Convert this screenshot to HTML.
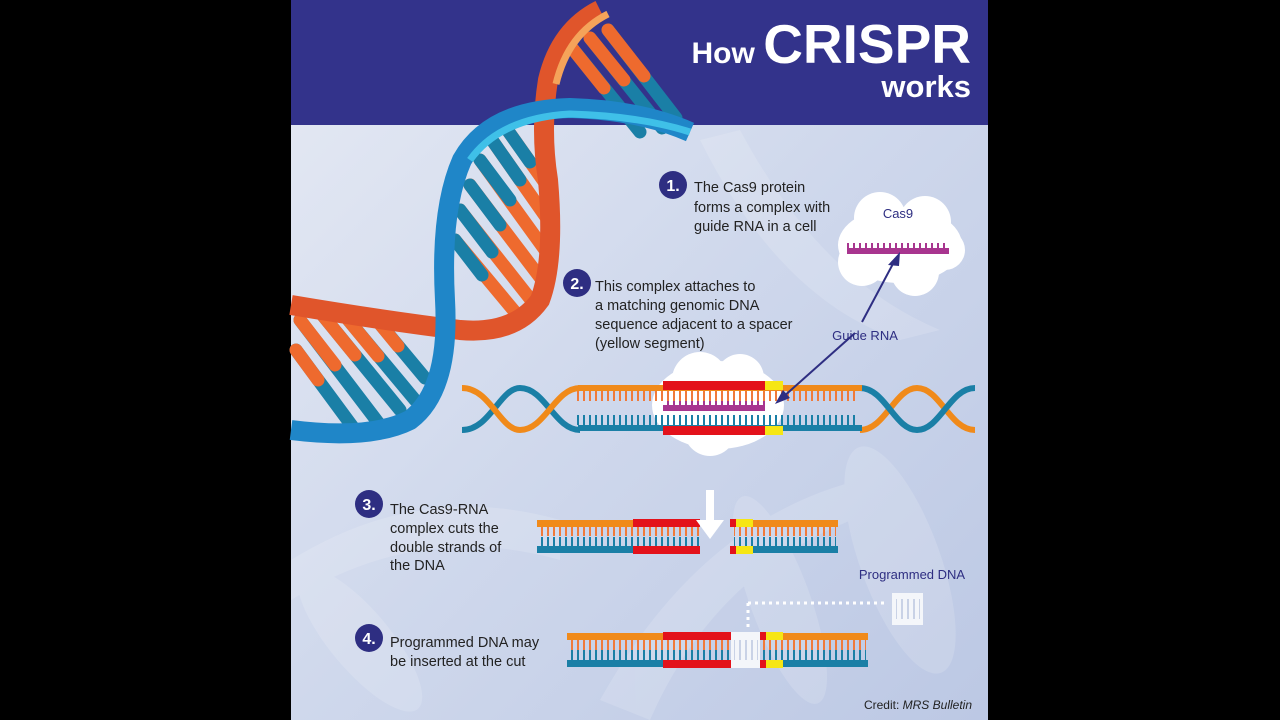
<!DOCTYPE html>
<html><head><meta charset="utf-8"><style>
html,body{margin:0;padding:0;background:#000;}
svg{display:block}
text{font-family:"Liberation Sans",Arial,sans-serif;}
</style></head><body>
<svg width="1280" height="720" viewBox="0 0 1280 720" xmlns="http://www.w3.org/2000/svg">
<defs>
<linearGradient id="bg" x1="0" y1="0" x2="1" y2="1">
<stop offset="0" stop-color="#e6eaf4"/><stop offset="0.5" stop-color="#cfd8ec"/><stop offset="1" stop-color="#bcc8e4"/>
</linearGradient>
<pattern id="tkO" x="0" y="0" width="6" height="20" patternUnits="userSpaceOnUse"><rect x="1" y="0" width="2" height="20" fill="#f07a3a"/></pattern>
<pattern id="tkB" x="0" y="0" width="6" height="20" patternUnits="userSpaceOnUse"><rect x="1" y="0" width="2" height="20" fill="#1a7fa6"/></pattern>
<pattern id="tkP" x="0" y="0" width="6" height="20" patternUnits="userSpaceOnUse"><rect x="1" y="0" width="2" height="20" fill="#a8358f"/></pattern>
<pattern id="tkW" x="0" y="0" width="6" height="20" patternUnits="userSpaceOnUse"><rect x="1" y="0" width="2" height="20" fill="#c9d2e6"/></pattern>
</defs>
<rect width="1280" height="720" fill="#000"/>
<rect x="291" y="0" width="697" height="720" fill="url(#bg)"/>
<g fill="#ffffff" opacity="0.15">
<path d="M700 140 Q780 300 900 340 L940 330 Q820 280 740 130Z"/>
<path d="M291 560 Q420 480 560 520 L560 560 Q420 520 291 600Z"/>
<path d="M600 700 Q700 520 860 480 L880 510 Q720 560 650 720Z"/>
<ellipse cx="900" cy="560" rx="40" ry="120" transform="rotate(-20 900 560)"/>
<ellipse cx="780" cy="600" rx="30" ry="110" transform="rotate(-20 780 600)"/>
<ellipse cx="360" cy="640" rx="30" ry="90" transform="rotate(-40 360 640)"/>
</g>
<rect x="291" y="0" width="697" height="125" fill="#33338b"/>
<text x="971" y="63" text-anchor="end" fill="#fff" font-weight="bold"><tspan font-size="30">How </tspan><tspan font-size="55">CRISPR</tspan></text>
<text x="971" y="97" text-anchor="end" fill="#fff" font-weight="bold" font-size="31">works</text>

<g stroke-linecap="round">
<g stroke-width="13">
<line x1="572" y1="48" x2="640" y2="132" stroke="#1a7fa6"/><line x1="572" y1="48" x2="604" y2="88" stroke="#ee6a2e"/>
<line x1="590" y1="38" x2="662" y2="128" stroke="#1a7fa6"/><line x1="590" y1="38" x2="624" y2="80" stroke="#ee6a2e"/>
<line x1="608" y1="30" x2="676" y2="118" stroke="#1a7fa6"/><line x1="608" y1="30" x2="644" y2="76" stroke="#ee6a2e"/>
<line x1="470" y1="185" x2="542" y2="280" stroke="#ee6a2e"/><line x1="470" y1="185" x2="500" y2="225" stroke="#1a7fa6"/>
<line x1="480" y1="160" x2="545" y2="250" stroke="#ee6a2e"/><line x1="480" y1="160" x2="510" y2="200" stroke="#1a7fa6"/>
<line x1="492" y1="140" x2="548" y2="220" stroke="#ee6a2e"/><line x1="492" y1="140" x2="520" y2="180" stroke="#1a7fa6"/>
<line x1="506" y1="128" x2="550" y2="190" stroke="#ee6a2e"/><line x1="506" y1="128" x2="530" y2="162" stroke="#1a7fa6"/>
<line x1="460" y1="210" x2="535" y2="305" stroke="#ee6a2e"/><line x1="460" y1="210" x2="492" y2="252" stroke="#1a7fa6"/>
<line x1="455" y1="240" x2="520" y2="318" stroke="#ee6a2e"/><line x1="455" y1="240" x2="482" y2="275" stroke="#1a7fa6"/>
<line x1="300" y1="320" x2="380" y2="425" stroke="#1a7fa6"/><line x1="300" y1="320" x2="335" y2="365" stroke="#ee6a2e"/>
<line x1="320" y1="312" x2="400" y2="410" stroke="#1a7fa6"/><line x1="320" y1="312" x2="355" y2="355" stroke="#ee6a2e"/>
<line x1="345" y1="316" x2="415" y2="400" stroke="#1a7fa6"/><line x1="345" y1="316" x2="378" y2="356" stroke="#ee6a2e"/>
<line x1="296" y1="350" x2="355" y2="430" stroke="#1a7fa6"/><line x1="296" y1="350" x2="318" y2="380" stroke="#ee6a2e"/>
<line x1="375" y1="318" x2="425" y2="378" stroke="#1a7fa6"/><line x1="375" y1="318" x2="398" y2="346" stroke="#ee6a2e"/>
</g>
</g>
<path d="M600 10 Q560 30 548 80 Q540 130 548 180 Q555 260 540 300 Q515 335 460 330 Q380 320 291 305" fill="none" stroke="#e0552b" stroke-width="20"/>
<path d="M608 14 Q568 34 556 84" fill="none" stroke="#f5a35a" stroke-width="7"/>
<path d="M690 132 Q640 110 570 108 Q490 110 462 160 Q440 210 445 300 Q450 390 410 420 Q370 440 291 430" fill="none" stroke="#1f86c8" stroke-width="20"/>
<path d="M690 132 Q640 116 570 114 Q500 118 470 160" fill="none" stroke="#3fc0e8" stroke-width="7"/>

<circle cx="673" cy="185" r="14" fill="#2e2e82"/>
<text x="673" y="191" text-anchor="middle" fill="#fff" font-weight="bold" font-size="16">1.</text>
<g fill="#222" font-size="14.5">
<text x="694" y="192">The Cas9 protein</text>
<text x="694" y="212">forms a complex with</text>
<text x="694" y="231">guide RNA in a cell</text>
</g>
<g fill="#fff">
<ellipse cx="900" cy="245" rx="62" ry="38"/>
<circle cx="880" cy="218" r="26"/><circle cx="925" cy="222" r="26"/>
<circle cx="862" cy="262" r="24"/><circle cx="915" cy="272" r="24"/><circle cx="945" cy="250" r="20"/>
</g>
<text x="898" y="218" text-anchor="middle" fill="#2e2e82" font-size="13">Cas9</text>
<rect x="847" y="243" width="102" height="6" fill="url(#tkP)"/>
<rect x="847" y="248" width="102" height="6" fill="#a8358f"/>
<line x1="862" y1="322" x2="895" y2="260" stroke="#2e2e82" stroke-width="2"/>
<polygon points="900,252 888,265 899,266" fill="#2e2e82"/>
<text x="865" y="340" text-anchor="middle" fill="#2e2e82" font-size="13">Guide RNA</text>

<circle cx="577" cy="283" r="14" fill="#2e2e82"/>
<text x="577" y="289" text-anchor="middle" fill="#fff" font-weight="bold" font-size="16">2.</text>
<g fill="#222" font-size="14.5">
<text x="595" y="291">This complex attaches to</text>
<text x="595" y="310">a matching genomic DNA</text>
<text x="595" y="329">sequence adjacent to a spacer</text>
<text x="595" y="348">(yellow segment)</text>
</g>
<g fill="#fff">
<ellipse cx="718" cy="405" rx="66" ry="44"/>
<circle cx="700" cy="380" r="28"/><circle cx="740" cy="378" r="24"/><circle cx="710" cy="430" r="26"/>
</g>
<g fill="none" stroke-width="6">
<path d="M462 430 C490 430 500 388 520 388 C545 388 555 430 580 430" stroke="#1a7fa6"/>
<path d="M462 388 C490 388 500 430 520 430 C545 430 555 388 580 388" stroke="#f08a1a"/>
<path d="M860 430 C885 430 895 388 917 388 C940 388 950 430 975 430" stroke="#f08a1a"/>
<path d="M860 388 C885 388 895 430 917 430 C940 430 950 388 975 388" stroke="#1a7fa6"/>
</g>
<rect x="578" y="385" width="284" height="6" fill="#f08a1a"/>
<rect x="578" y="425" width="284" height="6" fill="#1a7fa6"/>
<rect x="573" y="391" width="286" height="10" fill="url(#tkO)"/>
<rect x="573" y="415" width="286" height="10" fill="url(#tkB)"/>
<rect x="663" y="381" width="102" height="9" fill="#e3121b"/>
<rect x="663" y="426" width="102" height="9" fill="#e3121b"/>
<rect x="765" y="381" width="18" height="9" fill="#f6e614"/>
<rect x="765" y="426" width="18" height="9" fill="#f6e614"/>
<rect x="663" y="401" width="102" height="5" fill="url(#tkP)"/>
<rect x="663" y="405" width="102" height="6" fill="#a8358f"/>
<line x1="855" y1="333" x2="782" y2="398" stroke="#2e2e82" stroke-width="2"/>
<polygon points="775,404 783,390 790,398" fill="#2e2e82"/>

<circle cx="369" cy="504" r="14" fill="#2e2e82"/>
<text x="369" y="510" text-anchor="middle" fill="#fff" font-weight="bold" font-size="16">3.</text>
<g fill="#222" font-size="14.5">
<text x="390" y="514">The Cas9-RNA</text>
<text x="390" y="533">complex cuts the</text>
<text x="390" y="552">double strands of</text>
<text x="390" y="570">the DNA</text>
</g>
<rect x="537" y="520" width="163" height="7" fill="#f08a1a"/>
<rect x="537" y="546" width="163" height="7" fill="#1a7fa6"/>
<rect x="538" y="527" width="162" height="9" fill="url(#tkO)"/>
<rect x="538" y="537" width="162" height="9" fill="url(#tkB)"/>
<rect x="633" y="519" width="67" height="8" fill="#e3121b"/>
<rect x="633" y="546" width="67" height="8" fill="#e3121b"/>
<rect x="730" y="520" width="108" height="7" fill="#f08a1a"/>
<rect x="730" y="546" width="108" height="7" fill="#1a7fa6"/>
<rect x="734" y="527" width="102" height="9" fill="url(#tkO)"/>
<rect x="734" y="537" width="102" height="9" fill="url(#tkB)"/>
<rect x="730" y="519" width="6" height="8" fill="#e3121b"/><rect x="736" y="519" width="17" height="8" fill="#f6e614"/>
<rect x="730" y="546" width="6" height="8" fill="#e3121b"/><rect x="736" y="546" width="17" height="8" fill="#f6e614"/>
<rect x="706" y="490" width="8" height="32" fill="#fff"/>
<polygon points="696,520 724,520 710,539" fill="#fff"/>

<text x="912" y="579" text-anchor="middle" fill="#2e2e82" font-size="13">Programmed DNA</text>
<rect x="892" y="593" width="31" height="32" fill="#f4f6fa"/>
<rect x="896" y="599" width="24" height="20" fill="url(#tkW)"/>
<line x1="748" y1="603" x2="886" y2="603" stroke="#fff" stroke-width="3" stroke-dasharray="3 4"/>
<line x1="748" y1="603" x2="748" y2="628" stroke="#fff" stroke-width="3" stroke-dasharray="3 4"/>
<circle cx="369" cy="638" r="14" fill="#2e2e82"/>
<text x="369" y="644" text-anchor="middle" fill="#fff" font-weight="bold" font-size="16">4.</text>
<g fill="#222" font-size="14.5">
<text x="390" y="647">Programmed DNA may</text>
<text x="390" y="666">be inserted at the cut</text>
</g>
<rect x="567" y="633" width="301" height="7" fill="#f08a1a"/>
<rect x="567" y="660" width="301" height="7" fill="#1a7fa6"/>
<rect x="568" y="640" width="298" height="10" fill="url(#tkO)"/>
<rect x="568" y="650" width="298" height="10" fill="url(#tkB)"/>
<rect x="663" y="632" width="68" height="8" fill="#e3121b"/>
<rect x="663" y="660" width="68" height="8" fill="#e3121b"/>
<rect x="731" y="632" width="29" height="36" fill="#f4f6fa"/>
<rect x="734" y="640" width="24" height="20" fill="url(#tkW)"/>
<rect x="760" y="632" width="6" height="8" fill="#e3121b"/><rect x="766" y="632" width="17" height="8" fill="#f6e614"/>
<rect x="760" y="660" width="6" height="8" fill="#e3121b"/><rect x="766" y="660" width="17" height="8" fill="#f6e614"/>

<text x="972" y="709" text-anchor="end" fill="#222" font-size="12">Credit: <tspan font-style="italic">MRS Bulletin</tspan></text>
</svg>
</body></html>
